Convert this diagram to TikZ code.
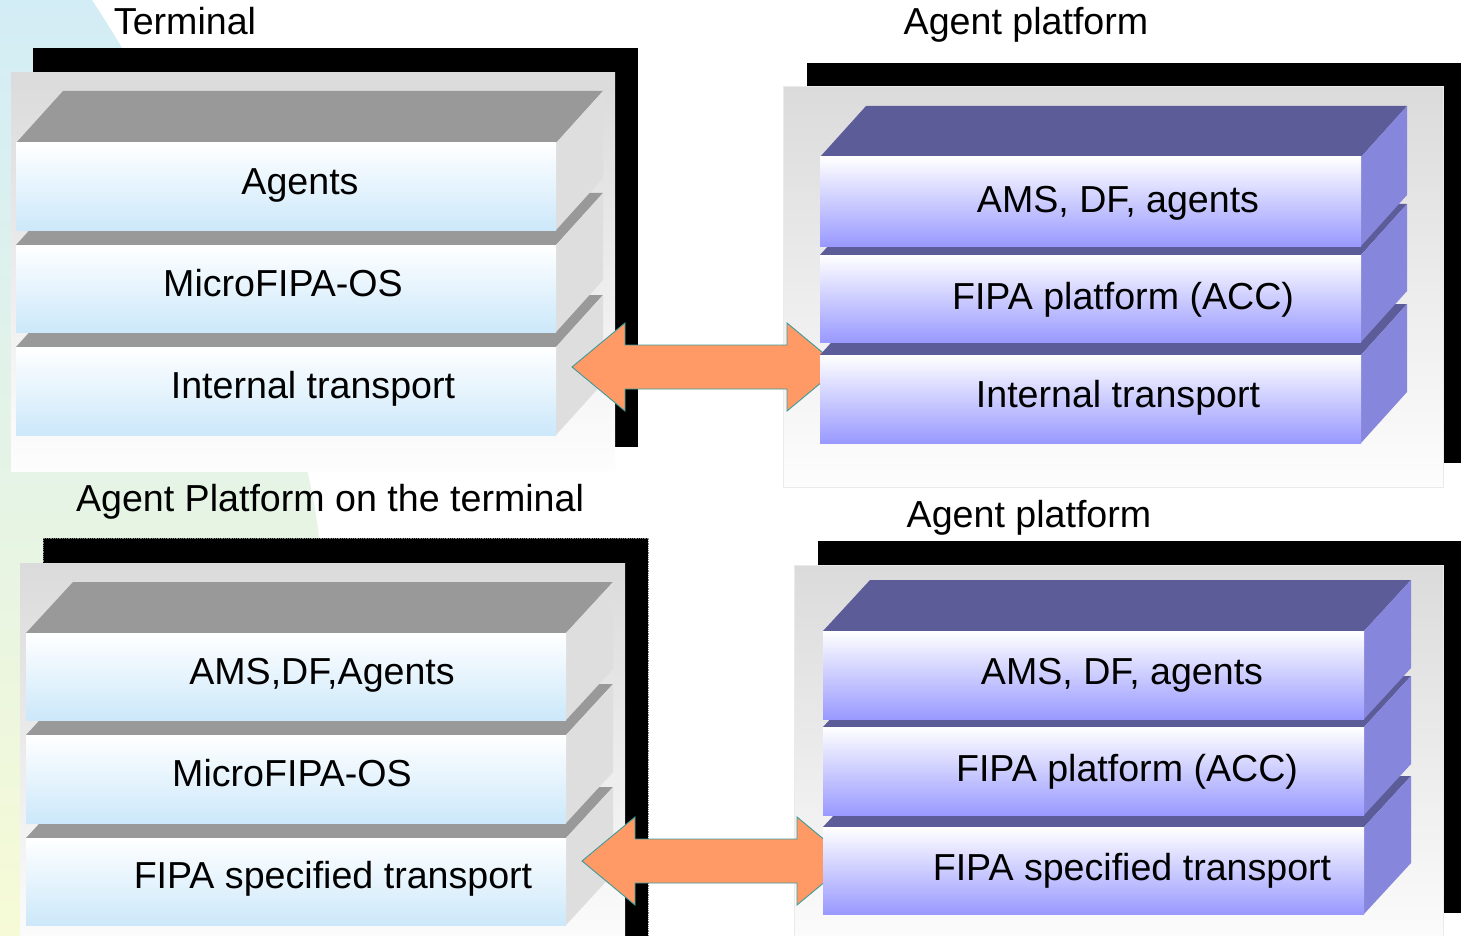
\documentclass[tikz,border=0pt]{standalone}
\usepackage{fontspec}
\setmainfont{Liberation Sans}
\definecolor{bgTop}{HTML}{D3EDF6}
\definecolor{bgMid}{HTML}{E4F3E4}
\definecolor{bgBot}{HTML}{F6FAD6}
\definecolor{panelTop}{HTML}{DBDBDB}
\definecolor{panelBot}{HTML}{FDFDFD}
\definecolor{panelRule}{HTML}{EAEAEA}
\definecolor{greyTopC}{HTML}{999999}
\definecolor{greySideC}{HTML}{DEDEDE}
\definecolor{blueFrontC}{HTML}{CCE8FA}
\definecolor{purpTopC}{HTML}{5C5C99}
\definecolor{purpSideC}{HTML}{8686DD}
\definecolor{purpFrontC}{HTML}{9999FF}
\definecolor{arrowFill}{HTML}{FF9966}
\definecolor{arrowLine}{HTML}{3C9C9C}
\newcommand\stackslab[7]{%
  \fill[#7top] (#1,#3) -- (#1+#5,#3-#6) -- (#2+#5,#3-#6) -- (#2,#3) -- cycle;
  \fill[#7side] (#2,#3) -- (#2+#5,#3-#6) -- (#2+#5,#4-#6) -- (#2,#4) -- cycle;
  \fill[#7front] (#1,#3) rectangle (#2,#4);
}
\begin{document}
\begin{tikzpicture}[x=1pt,y=-1pt,
  lbl/.style={font=\fontsize{37.6}{44}\selectfont, anchor=base, inner sep=0pt, text=black},
  shadowbox/.style={fill=black},
  panelbox/.style={top color=panelTop, bottom color=panelBot},
  greytop/.style={fill=greyTopC},
  greyside/.style={fill=greySideC},
  greyfront/.style={top color=white, bottom color=blueFrontC},
  purptop/.style={fill=purpTopC},
  purpside/.style={fill=purpSideC},
  purpfront/.style={top color=white, bottom color=purpFrontC},
  blockarrow/.style={fill=arrowFill, draw=arrowLine, line width=0.9pt, line join=miter}
]
\useasboundingbox (0,0) rectangle (1461,936);
\clip (0,0) rectangle (1461,936);
\fill[white] (0,0) rectangle (1461,936);
% background wedge
\shade[top color=bgTop, middle color=bgMid, bottom color=bgBot]
  (0,0) -- (92,0) .. controls (190,150) and (300,380) .. (318,530)
  .. controls (328,620) and (330,760) .. (330,936) -- (0,936) -- cycle;

% ---------- top-left panel
\fill[shadowbox] (33,48) rectangle (638,447);
\shade[panelbox] (11,73) rectangle (615,471);
\stackslab{16}{556}{347}{435}{47}{52}{grey}
\stackslab{16}{556}{245}{332}{47}{52}{grey}
\stackslab{16}{556}{143}{230}{47}{52}{grey}

% ---------- bottom-left panel
\fill[shadowbox, draw=gray, densely dotted, line width=0.8pt] (43,538) rectangle (648,960);
\shade[panelbox] (20,563) rectangle (625,960);
\stackslab{26}{566}{838}{925}{47}{51}{grey}
\stackslab{26}{566}{735}{823}{47}{51}{grey}
\stackslab{26}{566}{633}{720}{47}{51}{grey}

% ---------- right panels (backgrounds)
\fill[shadowbox] (807,63) rectangle (1470,463);
\shade[panelbox, draw=panelRule, line width=1pt] (783,87) rectangle (1443,487);
\fill[shadowbox] (818,541) rectangle (1470,913);
\shade[panelbox, draw=panelRule, line width=1pt] (794,565) rectangle (1443,960);

% ---------- block arrows
\coordinate (a1) at (572,367);
\coordinate (b1) at (840,367);
\draw[blockarrow] (a1) -- ++(53,-44) -- ++(0,22) -- ++(162,0) -- ++(0,-22)
  -- (b1) -- ++(-53,44) -- ++(0,-22) -- ++(-162,0) -- ++(0,22) -- cycle;
\coordinate (a2) at (582,861);
\coordinate (b2) at (850,861);
\draw[blockarrow] (a2) -- ++(53,-44) -- ++(0,22) -- ++(162,0) -- ++(0,-22)
  -- (b2) -- ++(-53,44) -- ++(0,-22) -- ++(-162,0) -- ++(0,22) -- cycle;

% ---------- right slabs
\stackslab{820}{1361}{355}{443}{46}{51}{purp}
\stackslab{820}{1361}{255}{342}{46}{51}{purp}
\stackslab{820}{1361}{157}{246}{46}{51}{purp}

\stackslab{823}{1364}{827}{914}{47}{51}{purp}
\stackslab{823}{1364}{727}{815}{47}{51}{purp}
\stackslab{823}{1364}{631}{719}{47}{51}{purp}

% ---------- texts
\node[lbl] (t1) at (185,35) {Terminal};
\node[lbl] (t2) at (1026,35) {Agent platform};
\node[lbl] (t3) at (330,511) {Agent Platform on the terminal};
\node[lbl] (t4) at (1029,527) {Agent platform};

\node[lbl] (l1) at (300,195) {Agents};
\node[lbl] (l2) at (283,296) {MicroFIPA-OS};
\node[lbl] (l3) at (313,398) {Internal transport};

\node[lbl] (r1) at (1118,212) {AMS, DF, agents};
\node[lbl] (r2) at (1123,309) {FIPA platform (ACC)};
\node[lbl] (r3) at (1118,407) {Internal transport};

\node[lbl] (m1) at (322,684) {AMS,DF,Agents};
\node[lbl] (m2) at (292,786) {MicroFIPA-OS};
\node[lbl] (m3) at (333,888) {FIPA specified transport};

\node[lbl] (n1) at (1122,684) {AMS, DF, agents};
\node[lbl] (n2) at (1127,781) {FIPA platform (ACC)};
\node[lbl] (n3) at (1132,880) {FIPA specified transport};
\end{tikzpicture}
\end{document}
